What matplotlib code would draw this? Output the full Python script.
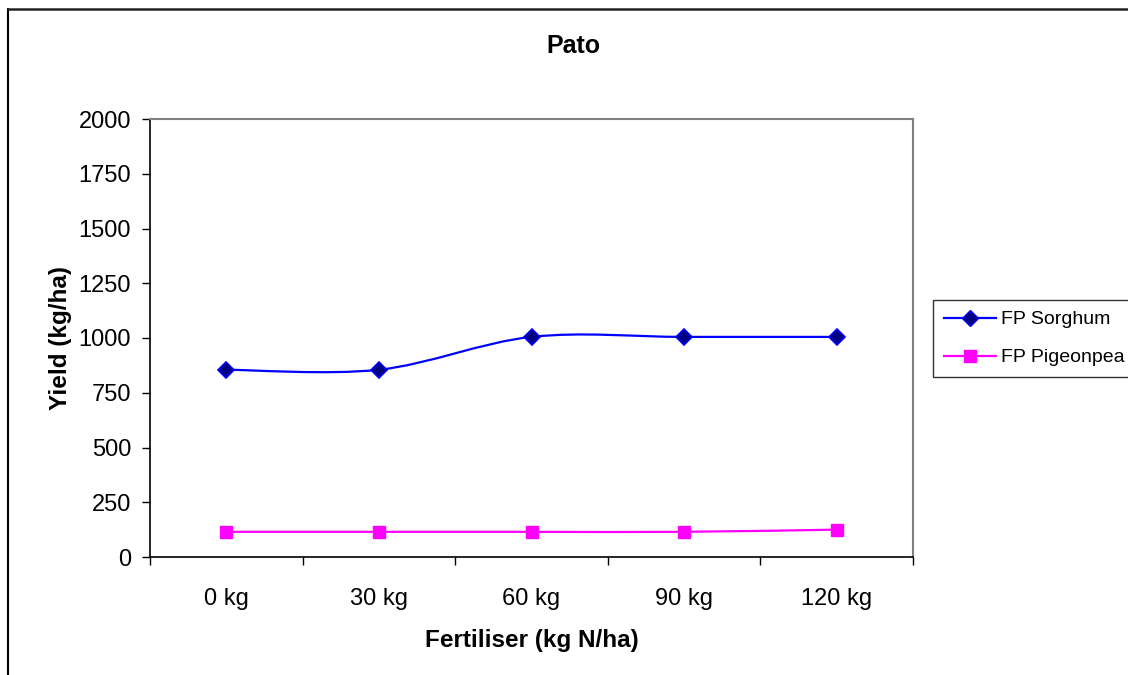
import matplotlib.pyplot as plt
import numpy as np
from matplotlib.path import Path
from matplotlib.patches import PathPatch
from matplotlib.lines import Line2D

plt.rcParams['font.family'] = ['Liberation Sans', 'DejaVu Sans']

# data
categories = ['0 kg', '30 kg', '60 kg', '90 kg', '120 kg']
sorghum = [855, 855, 1005, 1005, 1005]
pigeonpea = [115, 115, 115, 115, 125]


def smooth_path(xs, ys):
    # Excel-style smoothed line: cubic bezier through each point
    pts = np.column_stack([xs, ys]).astype(float)
    n = len(pts)
    verts = [pts[0]]
    codes = [Path.MOVETO]
    for i in range(n - 1):
        p0 = pts[i - 1] if i > 0 else pts[i]
        p1 = pts[i]
        p2 = pts[i + 1]
        p3 = pts[i + 2] if i + 2 < n else pts[i + 1]
        c1 = p1 + (p2 - p0) / 6.0
        c2 = p2 - (p3 - p1) / 6.0
        verts += [c1, c2, p2]
        codes += [Path.CURVE4] * 3
    return Path(verts, codes)


fig = plt.figure(figsize=(11.28, 6.75), dpi=100)
ax = fig.add_axes([150 / 1128, 1 - 557 / 675, 763 / 1128, 438 / 675])

x = np.arange(len(categories))
ax.add_patch(PathPatch(smooth_path(x, sorghum), fill=False, edgecolor='#0000ff', lw=1.6))
ax.add_patch(PathPatch(smooth_path(x, pigeonpea), fill=False, edgecolor='#ff00ff', lw=1.6))
ax.plot(x, sorghum, ls='none', marker='D', ms=8, mfc='#000080', mec='#0000ff', mew=1.2)
ax.plot(x, pigeonpea, ls='none', marker='s', ms=8.5, mfc='#ff00ff', mec='#ff00ff')

# legend handles
h1 = Line2D([], [], color='#0000ff', lw=1.6, marker='D', ms=8, mfc='#000080', mec='#0000ff')
h2 = Line2D([], [], color='#ff00ff', lw=1.6, marker='s', ms=8.5, mfc='#ff00ff', mec='#ff00ff')
leg = fig.legend([h1, h2], ['FP Sorghum', 'FP Pigeonpea'], loc='upper left',
                 bbox_to_anchor=(933 / 1128, 1 - 300 / 675), fontsize=14,
                 frameon=True, fancybox=False, edgecolor='black', handlelength=2.7,
                 borderpad=0.55, labelspacing=1.05, handletextpad=0.25, borderaxespad=0)
leg.get_frame().set_linewidth(1.0)

ax.set_xlim(-0.5, len(categories) - 0.5)
ax.set_ylim(0, 2000)
ax.set_yticks(np.arange(0, 2001, 250))
ax.set_xticks(np.arange(-0.5, len(categories), 1.0))
ax.set_xticklabels([])
ax.set_xticks(x, minor=True)
ax.set_xticklabels(categories, minor=True)
ax.tick_params(axis='x', which='major', direction='out', length=6, width=1)
ax.tick_params(axis='x', which='minor', length=0, pad=22, labelsize=17)
ax.tick_params(axis='y', direction='out', length=5.5, width=1, labelsize=17, pad=8)

for s in ['top', 'right']:
    ax.spines[s].set_color('#808080')
    ax.spines[s].set_linewidth(1.5)
for s in ['left', 'bottom']:
    ax.spines[s].set_color('black')
    ax.spines[s].set_linewidth(1.2)

ax.set_xlabel('Fertiliser (kg N/ha)', fontsize=17.5, fontweight='bold', labelpad=14)
ax.set_ylabel('Yield (kg/ha)', fontsize=17.5, fontweight='bold', labelpad=5)
fig.text(573 / 1128, 1 - 46 / 675, 'Pato', ha='center', va='center',
         fontsize=18, fontweight='bold')

# outer chart border (top and left visible)
fig.add_artist(Line2D([8 / 1128, 8 / 1128], [0, 1 - 9 / 675], color='black', lw=1.5))
fig.add_artist(Line2D([8 / 1128, 1], [1 - 9 / 675, 1 - 9 / 675], color='#222222', lw=1.8))

fig.savefig('out.png', dpi=100)
